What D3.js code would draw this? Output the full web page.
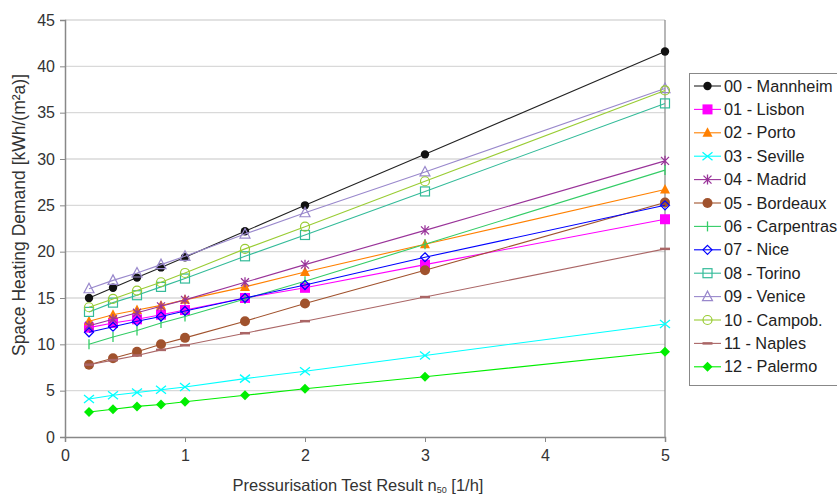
<!DOCTYPE html>
<html><head><meta charset="utf-8">
<script src="https://cdn.jsdelivr.net/npm/d3@7"></script>
<style>body{margin:0;background:#fff;}svg{display:block;} svg text{font-family:"Liberation Sans",Arial,sans-serif;}</style>
</head><body><svg id="c" width="837" height="497"></svg>
<script>
const xValues = [0.2, 0.4, 0.6, 0.8, 1.0, 1.5, 2, 3, 5];
const seriesNames = ["00 - Mannheim","01 - Lisbon","02 - Porto","03 - Seville","04 - Madrid","05 - Bordeaux","06 - Carpentras","07 - Nice","08 - Torino","09 - Venice","10 - Campob.","11 - Naples","12 - Palermo"];
const mannheim   = [15.0,16.1,17.2,18.3,19.4,22.2,25.0,30.5,41.6];
const lisbon     = [11.8,12.3,12.7,13.2,13.7,15.0,16.1,18.6,23.5];
const porto      = [12.5,13.2,13.7,14.2,14.8,16.2,17.8,20.8,26.7];
const seville    = [4.1,4.5,4.8,5.1,5.4,6.3,7.1,8.8,12.2];
const madrid     = [12.0,12.7,13.4,14.1,14.8,16.7,18.6,22.3,29.8];
const bordeaux   = [7.8,8.5,9.2,10.0,10.7,12.5,14.4,18.0,25.3];
const carpentras = [10.0,10.8,11.5,12.3,13.0,14.9,16.8,20.8,28.8];
const nice       = [11.3,11.9,12.5,13.0,13.6,15.0,16.4,19.4,25.0];
const torino     = [13.5,14.5,15.3,16.2,17.1,19.5,21.8,26.5,36.0];
const venice     = [16.0,16.9,17.7,18.6,19.5,21.9,24.2,28.6,37.6];
const campob     = [14.0,14.9,15.8,16.7,17.7,20.3,22.7,27.6,37.4];
const naples     = [7.8,8.3,8.8,9.4,9.9,11.2,12.5,15.1,20.3];
const palermo    = [2.7,3.0,3.3,3.5,3.8,4.5,5.2,6.5,9.2];
const seriesValues = [mannheim,lisbon,porto,seville,madrid,bordeaux,carpentras,nice,torino,venice,campob,naples,palermo];
const colors = ["#222222","#ff00ff","#ff8000","#00ffff","#993399","#a0522d","#33cc66","#0000ff","#33bb99","#9988cc","#99cc33","#aa6666","#00ee00"];
const markers = ["dot","square","triangle","x","star","bigdot","plus","diamondOpen","squareOpen","triangleOpen","circleOpen","dash","diamond"];
const xTicks = [0,1,2,3,4,5];
const yTicks = [0,5,10,15,20,25,30,35,40,45];

const svg = d3.select("#c");
const x = d3.scaleLinear().domain([0,5]).range([65,665]);
const y = d3.scaleLinear().domain([0,45]).range([437,20]);

// grid
svg.append("g").selectAll("line").data(yTicks.slice(1)).join("line")
  .attr("x1",65).attr("x2",665).attr("y1",d=>y(d)).attr("y2",d=>y(d))
  .attr("stroke","#d9d9d9").attr("stroke-width",1.3);
// right border
svg.append("line").attr("x1",665).attr("x2",665).attr("y1",20).attr("y2",437).attr("stroke","#888").attr("stroke-width",1.2);

const yAxis = svg.append("g").attr("transform","translate(65,0)")
  .call(d3.axisLeft(y).tickValues(yTicks).tickSize(5).tickPadding(5).tickFormat(d3.format("d")));
const xAxis = svg.append("g").attr("transform","translate(0,437)")
  .call(d3.axisBottom(x).tickValues(xTicks).tickSize(5).tickPadding(8).tickFormat(d3.format("d")));
[yAxis,xAxis].forEach(g=>{
  g.select(".domain").attr("stroke","#888").attr("stroke-width",1.5);
  g.selectAll(".tick line").attr("stroke","#888");
  g.selectAll("text").attr("font-size",16).attr("fill","#333");
});

// titles
svg.append("text").attr("transform","translate(25,215) rotate(-90)").attr("text-anchor","middle")
  .attr("font-size",17.5).attr("fill","#333").text("Space Heating Demand [kWh/(m²a)]");
const xt = svg.append("text").attr("x",358).attr("y",491).attr("text-anchor","middle").attr("font-size",16.5).attr("fill","#333");
xt.append("tspan").text("Pressurisation Test Result n");
xt.append("tspan").attr("font-size",9).attr("dy",2).text("50");
xt.append("tspan").attr("dy",-2).text(" [1/h]");

function drawMarker(g, type, cx, cy, col){
  switch(type){
    case "dot": g.append("circle").attr("cx",cx).attr("cy",cy).attr("r",4.2).attr("fill","#111"); break;
    case "bigdot": g.append("circle").attr("cx",cx).attr("cy",cy).attr("r",5).attr("fill",col); break;
    case "square": g.append("rect").attr("x",cx-5).attr("y",cy-5).attr("width",10).attr("height",10).attr("fill",col); break;
    case "squareOpen": g.append("rect").attr("x",cx-4.5).attr("y",cy-4.5).attr("width",9).attr("height",9).attr("fill","none").attr("stroke",col).attr("stroke-width",1.2); break;
    case "triangle": g.append("path").attr("d",`M${cx},${cy-5.5}L${cx+5},${cy+4}L${cx-5},${cy+4}Z`).attr("fill",col); break;
    case "triangleOpen": g.append("path").attr("d",`M${cx},${cy-5.5}L${cx+5},${cy+4}L${cx-5},${cy+4}Z`).attr("fill","none").attr("stroke",col).attr("stroke-width",1.2); break;
    case "x": g.append("path").attr("d",`M${cx-5},${cy-4}L${cx+5},${cy+4}M${cx-5},${cy+4}L${cx+5},${cy-4}`).attr("stroke",col).attr("stroke-width",1.3); break;
    case "star": g.append("path").attr("d",`M${cx-4},${cy-4}L${cx+4},${cy+4}M${cx-4},${cy+4}L${cx+4},${cy-4}M${cx},${cy-5}L${cx},${cy+5}`).attr("stroke",col).attr("stroke-width",1.3); break;
    case "plus": g.append("path").attr("d",`M${cx},${cy-5}L${cx},${cy+5}`).attr("stroke",col).attr("stroke-width",1.3); break;
    case "diamond": g.append("path").attr("d",`M${cx},${cy-5}L${cx+5},${cy}L${cx},${cy+5}L${cx-5},${cy}Z`).attr("fill",col); break;
    case "diamondOpen": g.append("path").attr("d",`M${cx},${cy-4.5}L${cx+4.5},${cy}L${cx},${cy+4.5}L${cx-4.5},${cy}Z`).attr("fill","none").attr("stroke",col).attr("stroke-width",1.2); break;
    case "circleOpen": g.append("circle").attr("cx",cx).attr("cy",cy).attr("r",4.5).attr("fill","none").attr("stroke",col).attr("stroke-width",1.2); break;
    case "dash": g.append("path").attr("d",`M${cx-5},${cy}L${cx+5},${cy}`).attr("stroke",col).attr("stroke-width",2.5); break;
  }
}

const line = d3.line().x((d,i)=>x(xValues[i])).y(d=>y(d));
seriesValues.forEach((vals,si)=>{
  const g = svg.append("g");
  g.append("path").attr("d",line(vals)).attr("fill","none").attr("stroke",colors[si]).attr("stroke-width",1.1);
  vals.forEach((v,i)=>drawMarker(g,markers[si],x(xValues[i]),y(v),colors[si]));
});

// legend
const lg = svg.append("g");
lg.append("rect").attr("x",689.5).attr("y",73.5).attr("width",160).attr("height",312).attr("fill","#fff").attr("stroke","#888");
seriesNames.forEach((n,i)=>{
  const yy = 86 + i*23.4;
  const g = lg.append("g");
  g.append("line").attr("x1",694).attr("x2",721).attr("y1",yy).attr("y2",yy).attr("stroke",colors[i]).attr("stroke-width",1.1);
  drawMarker(g,markers[i],707.5,yy,colors[i]);
  g.append("text").attr("x",724).attr("y",yy+5.5).attr("font-size",16.3).attr("fill","#222").text(n);
});
</script></body></html>
